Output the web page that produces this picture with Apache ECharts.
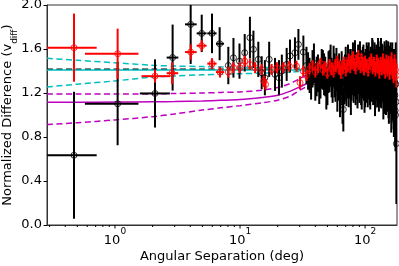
<!DOCTYPE html>
<html><head><meta charset="utf-8">
<script src="https://cdn.jsdelivr.net/npm/echarts@6/dist/echarts.min.js"></script>
<style>html,body{margin:0;padding:0;background:#fff}#c{width:399px;height:266px}</style>
</head><body><div id="c"></div>
<script>
const FONT = 'DejaVu Sans';

// ---- black measurements ----
const blackX = [0.47,1.05,2.09,2.89,4.03,4.94,5.97,6.87,
  8.06,8.86,9.9,10.9,12.0,12.8,14.0,14.9,15.8,17.1,19.05,20.5,21.6,23.6,25.1,27.5,29.3,32.1,
  34,36,38,40,42,44,46,48,50,52,54,56,58,60,62,64,66,68,70,72,74,76,78,80,82,84,86,88,90,92,94,96,98,100,
  103,106,109,112,115,118,121,124,127,130,133,136,139,142,145,148,151,154,157,160,163,166,169,172,174,176,178,
  35,37,39,41,43,45,47,49,51,53,55,57,59,61,63,65,67,69,71,73,75,77,79,81,83,85,87,89,91,93,95,97,99,
  101,102,104,105,107,108,110,111,113,114,116,117,119,120,122,123,125,126,128,129,131,132,134,135,137,138,
  140,141,143,144,146,147,149,150,152,153,155,156,158,159,161,162,164,165,167,168,170,171,173,175,177];
const blackY = [0.634,1.102,1.196,1.522,1.824,1.742,1.742,1.648,
  1.45,1.52,1.49,1.566,1.703,1.597,1.506,1.384,1.339,1.506,1.369,1.339,1.399,1.46,1.536,1.566,1.642,1.572,
  1.45,1.36,1.42,1.30,1.38,1.33,1.41,1.35,1.27,1.40,1.34,1.44,1.31,1.22,1.37,1.29,1.12,1.30,1.42,1.35,1.27,1.40,1.33,1.45,1.38,1.30,1.36,1.43,1.32,1.38,1.26,1.41,1.35,1.29,
  1.44,1.37,1.31,1.39,1.46,1.34,1.28,1.40,1.47,1.36,1.30,1.42,1.35,1.25,1.38,1.44,1.32,1.22,1.36,1.41,1.19,1.33,1.15,1.30,1.04,1.28,0.74,
  1.40,1.31,1.47,1.35,1.28,1.42,1.37,1.24,1.39,1.45,1.30,1.36,1.41,1.33,1.18,1.38,1.05,1.34,1.29,1.43,1.36,1.21,1.39,1.32,1.47,1.35,1.27,1.40,1.45,1.31,1.37,1.42,1.24,
  1.38,1.33,1.41,1.29,1.44,1.36,1.27,1.40,1.34,1.48,1.31,1.38,1.43,1.22,1.37,1.41,1.30,1.35,1.44,1.26,1.39,1.33,1.47,1.29,1.37,1.41,
  1.20,1.34,1.43,1.30,1.38,1.24,1.40,1.35,1.28,1.42,1.17,1.31,1.38,1.26,1.35,1.10,1.29,1.40,1.22,1.33,1.08,1.27,1.18,1.00,1.12];
const blackYErr = [0.577,0.377,0.31,0.30,0.36,0.17,0.18,0.15,
  0.17,0.18,0.16,0.17,0.19,0.17,0.16,0.15,0.16,0.16,0.15,0.16,0.15,0.15,0.15,0.14,0.14,0.15,
  0.17,0.16,0.17,0.17,0.17,0.18,0.18,0.18,0.18,0.19,0.18,0.19,0.19,0.19,0.19,0.20,0.20,0.20,0.20,0.20,0.20,0.20,0.20,0.21,0.21,0.21,0.21,0.21,0.21,0.21,0.21,0.21,0.22,0.22,
  0.22,0.22,0.22,0.22,0.22,0.22,0.22,0.23,0.23,0.23,0.23,0.23,0.23,0.24,0.24,0.24,0.24,0.25,0.25,0.25,0.26,0.27,0.28,0.30,0.33,0.38,0.55,
  0.17,0.17,0.18,0.18,0.18,0.18,0.19,0.19,0.19,0.19,0.19,0.20,0.20,0.20,0.20,0.20,0.20,0.21,0.21,0.21,0.21,0.21,0.21,0.21,0.21,0.21,0.21,0.21,0.22,0.22,0.22,0.22,0.22,
  0.22,0.22,0.22,0.22,0.22,0.22,0.22,0.22,0.22,0.22,0.22,0.22,0.23,0.23,0.23,0.23,0.23,0.23,0.23,0.23,0.23,0.23,0.23,0.23,0.23,0.23,
  0.24,0.24,0.24,0.24,0.24,0.24,0.24,0.24,0.25,0.25,0.25,0.25,0.25,0.25,0.26,0.26,0.26,0.26,0.27,0.27,0.28,0.29,0.30,0.33,0.36];
const blackXLo = [0.2,0.575,1.58,2.59,3.63,4.5,5.47,6.42];
const blackXHi = [0.714,1.54,2.75,3.21,4.5,5.4,6.49,7.45];

// ---- red measurements ----
const redX = [0.47,1.05,2.09,2.86,4.03,4.94,5.97,6.92,
  8.06,8.86,10.0,10.9,12.0,13.2,14.9,15.5,16.0,17.9,19.7,22.2,24.8,28.3,30.2,
  32,34,36,38,40,42,44,46,48,50,52,54,56,58,60,62,64,66,68,70,72,74,76,78,80,82,84,86,88,90,92,94,96,98,100,
  103,106,109,112,115,118,121,124,127,130,133,136,139,142,145,148,151,154,157,160,163,166,169,172,175,178];
const redY = [1.612,1.557,1.353,1.38,1.572,1.630,1.467,1.39,
  1.39,1.43,1.43,1.49,1.46,1.43,1.414,1.308,1.278,1.414,1.43,1.43,1.444,1.444,1.293,
  1.40,1.36,1.42,1.45,1.39,1.43,1.47,1.41,1.44,1.38,1.46,1.42,1.40,1.45,1.48,1.43,1.39,1.44,1.47,1.41,1.45,1.50,1.44,1.48,1.52,1.46,1.43,1.49,1.53,1.47,1.44,1.50,1.46,1.42,1.48,
  1.45,1.41,1.47,1.50,1.44,1.46,1.42,1.48,1.45,1.40,1.46,1.43,1.49,1.44,1.41,1.47,1.43,1.46,1.40,1.45,1.48,1.42,1.38,1.45,1.41,1.36];
const redYErr = [0.31,0.228,0.06,0.10,0.07,0.05,0.05,0.05,
  0.05,0.05,0.05,0.05,0.05,0.05,0.05,0.05,0.05,0.05,0.05,0.05,0.05,0.05,0.06,
  0.05,0.05,0.05,0.05,0.05,0.05,0.05,0.05,0.05,0.05,0.05,0.06,0.06,0.06,0.06,0.06,0.06,0.06,0.06,0.06,0.06,0.06,0.06,0.06,0.06,0.06,0.06,0.06,0.06,0.06,0.06,0.06,0.06,0.06,0.06,
  0.06,0.06,0.06,0.06,0.07,0.07,0.07,0.07,0.07,0.07,0.07,0.07,0.07,0.07,0.08,0.08,0.08,0.08,0.08,0.08,0.09,0.09,0.09,0.10,0.10,0.11];
const redXLo = [0.2,0.575,1.63,2.59,3.63,4.5,5.47,6.42];
const redXHi = [0.714,1.54,2.75,3.2,4.5,5.4,6.49,7.45];

// ---- model curves ----
const modelX    = [0.286,0.5,1,2,3,5,7,10,15,20,25,30,35,40,50,60,80,120,180];
const cyanUpper = [1.515,1.497,1.475,1.452,1.445,1.440,1.437,1.435,1.432,1.430,1.427,1.425,1.423,1.421,1.420,1.418,1.417,1.416,1.415];
const cyanMid   = [1.408,1.408,1.408,1.408,1.408,1.408,1.408,1.408,1.408,1.408,1.408,1.408,1.408,1.408,1.408,1.408,1.408,1.408,1.408];
const cyanLower = [1.255,1.280,1.310,1.345,1.355,1.365,1.370,1.375,1.380,1.385,1.390,1.395,1.398,1.400,1.405,1.407,1.408,1.409,1.410];
const blackMid  = [1.416,1.416,1.416,1.416,1.416,1.416,1.416,1.416,1.416,1.416,1.416,1.416,1.416,1.416,1.416,1.416,1.416,1.416,1.416];
const magUpper  = [1.190,1.190,1.190,1.192,1.195,1.200,1.205,1.210,1.225,1.250,1.285,1.330,1.370,1.395,1.410,1.414,1.415,1.415,1.415];
const magMid    = [1.115,1.116,1.118,1.120,1.122,1.127,1.133,1.140,1.160,1.180,1.215,1.255,1.290,1.320,1.375,1.400,1.410,1.414,1.415];
const magLower  = [0.913,0.930,0.955,0.985,1.010,1.045,1.065,1.085,1.110,1.135,1.170,1.225,1.265,1.300,1.360,1.395,1.410,1.414,1.415];

// ---- axes ----
const xMin = 0.286, xMax = 180;
const xMajorTicks = [1, 10, 100];
const yMin = 0, yMax = 2, yStep = 0.4;

const xMinorTicks = [];
[0.1, 1, 10, 100].forEach(d => { for (let k = 2; k <= 9; k++) { const v = k * d; if (v > xMin && v < xMax) xMinorTicks.push(v); } });

function errData(xs, ys, es, xlo, xhi) {
  return xs.map((x, i) => [x, ys[i], ys[i] - es[i], ys[i] + es[i],
    i < xlo.length ? xlo[i] : 0, i < xhi.length ? xhi[i] : 0]);
}
function errRender(color) {
  return function (params, api) {
    const x = api.value(0), y = api.value(1), lo = api.value(2), hi = api.value(3), xl = api.value(4), xh = api.value(5);
    const c = api.coord([x, y]), t = api.coord([x, hi]), b = api.coord([x, lo]);
    const ch = [{ type: 'line', shape: { x1: c[0], y1: t[1], x2: c[0], y2: b[1] }, style: { stroke: color, lineWidth: 2 } }];
    if (xl > 0 && xh > 0) {
      const l = api.coord([xl, y]), r = api.coord([xh, y]);
      ch.push({ type: 'line', shape: { x1: l[0], y1: c[1], x2: r[0], y2: c[1] }, style: { stroke: color, lineWidth: 2 } });
    }
    return { type: 'group', children: ch };
  };
}
function curve(ys, color, dashed, z) {
  return { type: 'line', data: modelX.map((x, i) => [x, ys[i]]), showSymbol: false, smooth: 0.3, z: z,
    lineStyle: { color: color, width: 1.5, type: dashed ? [6, 3.5] : 'solid' }, silent: true };
}
function tickSeries(vals, len) {
  return { type: 'custom', clip: false, silent: true, z: 10, data: vals.map(v => [v, yMin]),
    renderItem: function (params, api) {
      const p = api.coord([api.value(0), yMin]);
      return { type: 'line', shape: { x1: p[0], y1: p[1], x2: p[0], y2: p[1] + len }, style: { stroke: '#000', lineWidth: 1 } };
    } };
}

const chart = echarts.init(document.getElementById('c'), null, { renderer: 'canvas' });
chart.setOption({
  animation: false,
  backgroundColor: '#fff',
  textStyle: { fontFamily: FONT },
  grid: { left: 47, top: 5, width: 350, height: 220, show: true, borderColor: '#333', borderWidth: 1,
          containLabel: false, outerBoundsMode: 'none' },
  xAxis: {
    type: 'log', logBase: 10, min: xMin, max: xMax,
    name: 'Angular Separation (deg)', nameLocation: 'middle', nameGap: 25, nameMoveOverlap: false,
    nameTextStyle: { fontFamily: FONT, fontSize: 13, color: '#000' },
    axisLine: { lineStyle: { color: '#333', width: 1 } },
    axisTick: { show: false },
    splitLine: { show: false },
    axisLabel: {
      showMinLabel: false, showMaxLabel: false, margin: 2,
      formatter: function (v) {
        const e = Math.round(Math.log10(v));
        if (Math.abs(Math.log10(v) - e) > 1e-6 || xMajorTicks.indexOf(Math.pow(10, e)) < 0) return '';
        return '{b|10}{sup|' + e + '}';
      },
      rich: {
        b: { fontFamily: FONT, fontSize: 13, color: '#000', lineHeight: 20, verticalAlign: 'bottom' },
        sup: { fontFamily: FONT, fontSize: 9, color: '#000', lineHeight: 9, verticalAlign: 'top' }
      }
    }
  },
  yAxis: {
    type: 'value', min: yMin, max: yMax, interval: yStep,
    name: '{b|Normalized Difference (v}{sub|diff}{b|)}', nameLocation: 'middle', nameGap: 28, nameRotate: 90,
    nameMoveOverlap: false,
    nameTextStyle: {
      fontFamily: FONT, fontSize: 13, color: '#000',
      rich: {
        b: { fontFamily: FONT, fontSize: 13, color: '#000', lineHeight: 18, verticalAlign: 'top' },
        sub: { fontFamily: FONT, fontSize: 9, color: '#000', lineHeight: 9, verticalAlign: 'bottom' }
      }
    },
    axisLine: { show: true, lineStyle: { color: '#333', width: 1 } },
    axisTick: { show: true, length: 3.5, lineStyle: { color: '#000' } },
    splitLine: { show: false },
    axisLabel: { fontFamily: FONT, fontSize: 13, color: '#000', margin: 5, formatter: v => v.toFixed(1) }
  },
  series: [
    curve(blackMid, '#000000', true, 1),
    curve(cyanMid, '#00bfbf', false, 2),
    curve(cyanUpper, '#00bfbf', true, 2),
    curve(cyanLower, '#00bfbf', true, 2),
    curve(magUpper, '#bf00bf', true, 2),
    curve(magMid, '#bf00bf', false, 2),
    curve(magLower, '#bf00bf', true, 2),
    { type: 'custom', clip: true, z: 3, data: errData(blackX, blackY, blackYErr, blackXLo, blackXHi),
      encode: { x: 0, y: 1 }, renderItem: errRender('#000') },
    { type: 'scatter', z: 4, symbol: 'circle', symbolSize: 6, data: blackX.map((x, i) => [x, blackY[i]]),
      itemStyle: { color: 'rgba(0,0,0,0)', borderColor: '#000', borderWidth: 1 } },
    { type: 'custom', clip: true, z: 5, data: errData(redX, redY, redYErr, redXLo, redXHi),
      encode: { x: 0, y: 1 }, renderItem: errRender('#ff0000') },
    { type: 'scatter', z: 6, symbol: 'circle', symbolSize: 6, data: redX.map((x, i) => [x, redY[i]]),
      itemStyle: { color: 'rgba(0,0,0,0)', borderColor: '#ff0000', borderWidth: 1 } },
    tickSeries(xMajorTicks, 3.5),
    tickSeries(xMinorTicks, 2)
  ]
});
</script></body></html>
